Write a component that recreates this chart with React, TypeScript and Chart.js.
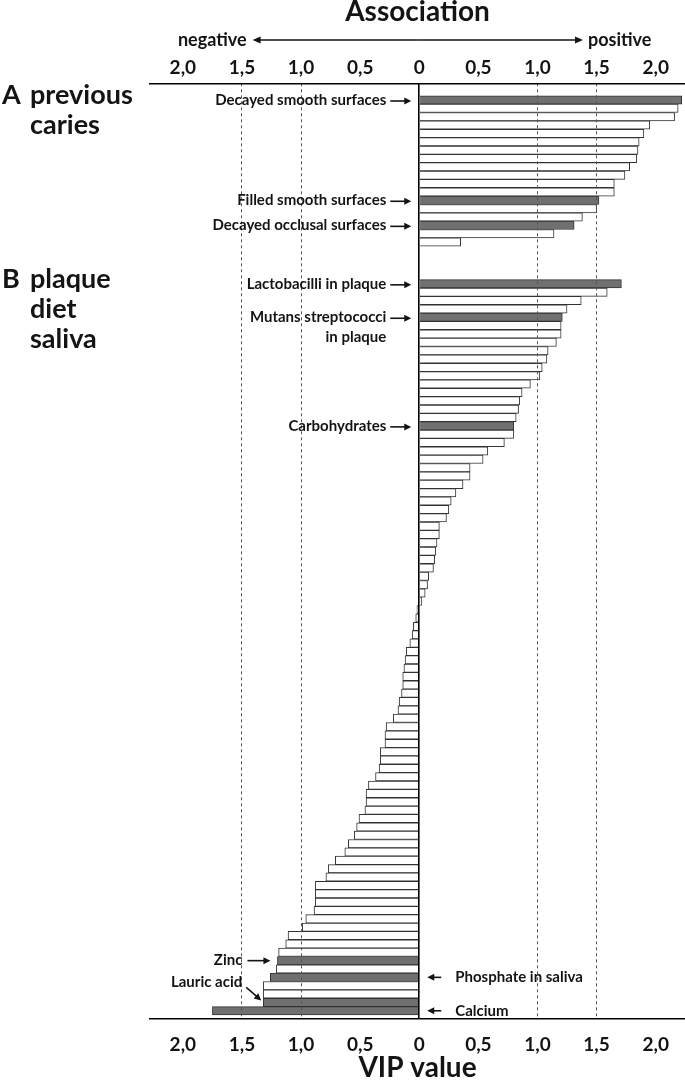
import React, { useEffect, useRef } from "react";
import { Chart, registerables } from "chart.js";

Chart.register(...registerables);

// ---------- data ----------
const groupLetters = ["A", "B"];
const groupTitleLines = [
  ["previous", "caries"],
  ["plaque", "diet", "saliva"],
];

// VIP values, signed (positive / negative association), top to bottom
const groupAValues = [
  2.22, 2.19, 2.16, 1.95, 1.9, 1.86, 1.85, 1.84, 1.78, 1.74, 1.65, 1.65, 1.52,
  1.5, 1.38, 1.31, 1.14, 0.35,
];
const groupBValues = [
  1.71, 1.59, 1.37, 1.25, 1.21, 1.2, 1.2, 1.16, 1.09, 1.08, 1.04, 1.02, 0.94,
  0.87, 0.85, 0.84, 0.82, 0.8, 0.8, 0.72, 0.58, 0.54, 0.43, 0.43, 0.37, 0.31,
  0.27, 0.25, 0.23, 0.17, 0.17, 0.15, 0.14, 0.13, 0.12, 0.08, 0.07, 0.05, 0.02,
  -0.02, -0.03, -0.05, -0.06, -0.08, -0.11, -0.12, -0.13, -0.14, -0.14, -0.15,
  -0.17, -0.18, -0.22, -0.28, -0.29, -0.29, -0.33, -0.33, -0.34, -0.37, -0.43,
  -0.45, -0.45, -0.46, -0.51, -0.53, -0.55, -0.6, -0.63, -0.71, -0.77, -0.79,
  -0.88, -0.88, -0.88, -0.89, -0.96, -0.99, -1.11, -1.13, -1.19, -1.2, -1.21,
  -1.26, -1.32, -1.32, -1.32, -1.75,
];
const groupGapSlots = 4;

// labelled (highlighted) variables
const annotationTexts = [
  ["Decayed smooth surfaces"],
  ["Filled smooth surfaces"],
  ["Decayed occlusal surfaces"],
  ["Lactobacilli in plaque"],
  ["Mutans streptococci", "in plaque"],
  ["Carbohydrates"],
  ["Zinc"],
  ["Phosphate in saliva"],
  ["Lauric acid"],
  ["Calcium"],
];
const annotationGroups = [0, 0, 0, 1, 1, 1, 1, 1, 1, 1];
const annotationBars = [0, 12, 15, 0, 4, 17, 81, 83, 86, 87];

const tickValues = [-2, -1.5, -1, -0.5, 0, 0.5, 1, 1.5, 2];
const dottedValues = [-1.5, -1, 1, 1.5];
const topTitle = "Association";
const bottomTitle = "VIP value";
const negativeLabel = "negative";
const positiveLabel = "positive";

// ---------- layout / style ----------
const FONT = "Lato, 'DejaVu Sans', sans-serif";
const TEXT = "#141414";
const ANNOTATION_PLACEMENT = [
  "axisLeft",
  "axisLeft",
  "axisLeft",
  "axisLeft",
  "axisLeft",
  "axisLeft",
  "barLeft",
  "axisRight",
  "barDiagonal",
  "axisRight",
];

const groupStartSlots = [0, groupAValues.length + groupGapSlots];
const groupValues = [groupAValues, groupBValues];

function slotOf(group: number, bar: number) {
  return groupStartSlots[group] + bar;
}

function drawArrow(
  ctx: CanvasRenderingContext2D,
  x1: number,
  y1: number,
  x2: number,
  y2: number,
  head = 7,
  half = 3.5
) {
  const a = Math.atan2(y2 - y1, x2 - x1);
  const c = Math.cos(a);
  const s = Math.sin(a);
  ctx.beginPath();
  ctx.moveTo(x1, y1);
  ctx.lineTo(x2 - head * 0.7 * c, y2 - head * 0.7 * s);
  ctx.lineWidth = 1.6;
  ctx.stroke();
  ctx.beginPath();
  ctx.moveTo(x2, y2);
  ctx.lineTo(x2 - head * c + half * s, y2 - head * s - half * c);
  ctx.lineTo(x2 - head * c - half * s, y2 - head * s + half * c);
  ctx.closePath();
  ctx.fill();
}

const annotationPlugin = {
  id: "vipAnnotations",
  afterDraw(chart: any) {
    const ctx: CanvasRenderingContext2D = chart.ctx;
    const xs = chart.scales.x;
    const ys = chart.scales.y;
    const x0 = xs.getPixelForValue(0);
    ctx.save();
    ctx.fillStyle = TEXT;
    ctx.strokeStyle = TEXT;

    // group titles on the left
    ctx.font = `bold 27px ${FONT}`;
    ctx.textBaseline = "alphabetic";
    ctx.textAlign = "left";
    groupLetters.forEach((letter, g) => {
      const yBase = ys.getPixelForValue(slotOf(g, 0)) + 4;
      ctx.fillText(letter, 2, yBase);
      groupTitleLines[g].forEach((line, k) => {
        ctx.fillText(line, 30, yBase + k * 30);
      });
    });

    // negative <-> positive header
    const hy = 40;
    const hl = xs.getPixelForValue(-1.41);
    const hr = xs.getPixelForValue(1.385);
    ctx.font = `bold 18px ${FONT}`;
    ctx.textBaseline = "middle";
    ctx.textAlign = "right";
    ctx.fillText(negativeLabel, hl - 6, hy);
    ctx.textAlign = "left";
    ctx.fillText(positiveLabel, hr + 5, hy);
    const hm = (hl + hr) / 2;
    drawArrow(ctx, hm, hy, hl, hy, 8, 3.5);
    drawArrow(ctx, hm, hy, hr, hy, 8, 3.5);

    // annotations
    ctx.font = `bold 15px ${FONT}`;
    ctx.textBaseline = "middle";
    annotationTexts.forEach((lines, i) => {
      const g = annotationGroups[i];
      const b = annotationBars[i];
      const y = ys.getPixelForValue(slotOf(g, b));
      const barEnd = xs.getPixelForValue(groupValues[g][b]);
      const place = ANNOTATION_PLACEMENT[i];
      if (place === "axisLeft") {
        ctx.textAlign = "right";
        lines.forEach((t, k) => ctx.fillText(t, x0 - 33, y + k * 20));
        drawArrow(ctx, x0 - 29, y + 1, x0 - 8, y + 1);
      } else if (place === "axisRight") {
        ctx.textAlign = "left";
        lines.forEach((t, k) => ctx.fillText(t, x0 + 36, y + k * 20));
        drawArrow(ctx, x0 + 22, y, x0 + 8, y);
      } else if (place === "barLeft") {
        ctx.textAlign = "right";
        lines.forEach((t, k) => ctx.fillText(t, barEnd - 35, y + k * 20));
        drawArrow(ctx, barEnd - 30, y, barEnd - 7, y);
      } else if (place === "barDiagonal") {
        ctx.textAlign = "right";
        lines.forEach((t, k) => ctx.fillText(t, barEnd - 21, y - 20 + k * 20));
        drawArrow(ctx, barEnd - 17, y - 15, barEnd - 2, y - 2);
      }
    });
    ctx.restore();
  },
};

export default function App() {
  const canvasRef = useRef<HTMLCanvasElement | null>(null);

  useEffect(() => {
    if (!canvasRef.current) return;
    Chart.defaults.font.family = FONT;
    Chart.defaults.color = TEXT;

    const points: { x: number; y: number }[] = [];
    const fills: string[] = [];
    groupValues.forEach((vals, g) => {
      vals.forEach((v, b) => {
        points.push({ x: v, y: slotOf(g, b) });
        const hi = annotationGroups.some(
          (ag, i) => ag === g && annotationBars[i] === b
        );
        fills.push(hi ? "#707070" : "#ffffff");
      });
    });

    const tickLabel = (v: any) =>
      Number(v) === 0 ? "0" : Math.abs(Number(v)).toFixed(1).replace(".", ",");
    const setTicks = (scale: any) => {
      scale.ticks = tickValues.map((v) => ({ value: v }));
    };

    const xMin = -2.278;
    const xMax = 2.248;

    const chart = new Chart(canvasRef.current, {
      type: "bar",
      data: {
        datasets: [
          {
            data: points as any,
            backgroundColor: fills,
            borderColor: "#333333",
            borderWidth: 1,
            barPercentage: 1,
            categoryPercentage: 1,
            xAxisID: "x",
            yAxisID: "y",
          },
        ],
      },
      options: {
        animation: false,
        responsive: false,
        indexAxis: "y",
        layout: { padding: { left: 150, right: 0, top: 0, bottom: 0 } },
        plugins: {
          legend: { display: false },
          tooltip: { enabled: false },
        },
        scales: {
          x: {
            type: "linear",
            position: "bottom",
            min: xMin,
            max: xMax,
            afterBuildTicks: setTicks,
            afterFit: (s: any) => {
              s.height = 66.7;
            },
            ticks: {
              autoSkip: false,
              maxRotation: 0,
              padding: 15,
              callback: tickLabel,
              color: TEXT,
              font: { size: 19, weight: "bold" },
            },
            grid: {
              drawTicks: false,
              z: 1,
              color: (c: any) => {
                const v = c.tick ? c.tick.value : null;
                if (v === 0) return "#000000";
                return dottedValues.includes(v) ? "#555555" : "rgba(0,0,0,0)";
              },
              lineWidth: (c: any) => (c.tick && c.tick.value === 0 ? 1.6 : 1),
            },
            border: {
              display: true,
              color: "#000000",
              width: 1.4,
              z: 1,
              dash: (c: any) =>
                c.tick && c.tick.value === 0 ? [] : [3, 3],
            },
            title: {
              display: true,
              text: bottomTitle,
              color: TEXT,
              font: { size: 28, weight: "bold", lineHeight: 1 },
              padding: { top: 0, bottom: 3 },
            },
          },
          xTop: {
            type: "linear",
            position: "top",
            min: xMin,
            max: xMax,
            afterBuildTicks: setTicks,
            afterFit: (s: any) => {
              s.height = 83.3;
            },
            ticks: {
              autoSkip: false,
              maxRotation: 0,
              padding: 4,
              callback: tickLabel,
              color: TEXT,
              font: { size: 19, weight: "bold" },
            },
            grid: { display: false, drawTicks: false },
            border: { display: true, color: "#000000", width: 1.4, z: 1 },
            title: {
              display: true,
              text: topTitle,
              color: TEXT,
              font: { size: 28, weight: "bold", lineHeight: 1 },
              padding: { top: -2, bottom: 0 },
            },
          },
          y: {
            type: "linear",
            reverse: true,
            offset: false,
            min: -2,
            max: 109.9,
            display: false,
          },
        },
      } as any,
      plugins: [annotationPlugin],
    });

    return () => chart.destroy();
  }, []);

  return (
    <div
      style={{
        position: "absolute",
        left: 0,
        top: 0,
        width: 685,
        height: 1085,
        background: "#ffffff",
      }}
    >
      <canvas
        ref={canvasRef}
        width={685}
        height={1085}
        style={{ display: "block" }}
      />
    </div>
  );
}
